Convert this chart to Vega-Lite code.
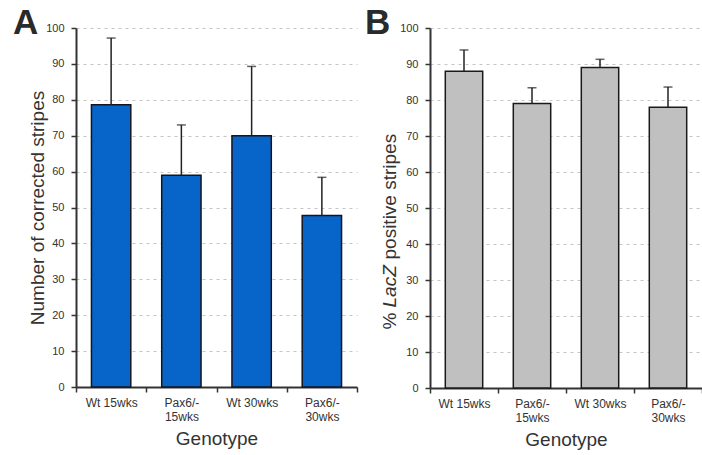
{
  "$schema": "https://vega.github.io/schema/vega-lite/v6.json",
  "background": "white",
  "padding": {"left": 13, "top": 6, "right": 0, "bottom": 0},
  "config": {
    "font": "Liberation Sans",
    "view": {"stroke": null},
    "concat": {"spacing": 7},
    "axis": {
      "labelFont": "Liberation Sans",
      "titleFont": "Liberation Sans",
      "labelColor": "#333333",
      "titleColor": "#333333",
      "domainColor": "#333333",
      "tickColor": "#333333",
      "titleFontWeight": "normal"
    },
    "axisX": {
      "labelFontSize": 12,
      "labelAngle": 0,
      "labelPadding": 5,
      "labelLineHeight": 14.5,
      "tickBand": "extent",
      "tickSize": 5,
      "tickWidth": 1.5,
      "domainWidth": 2,
      "titleFontSize": 19,
      "titlePadding": 7,
      "labelExpr": "indexof(datum.label, 'Pax6') == 0 ? split(datum.label, ' ') : datum.label"
    },
    "axisY": {
      "labelFontSize": 11,
      "labelPadding": 7,
      "tickSize": 5,
      "tickWidth": 1.5,
      "tickCount": 10,
      "domainWidth": 2,
      "gridColor": "#c4c4c4",
      "gridDash": [3, 4],
      "gridWidth": 1,
      "titleFontSize": 19
    },
    "title": {
      "anchor": "start",
      "frame": "group",
      "baseline": "alphabetic",
      "fontSize": 35,
      "fontWeight": "bold",
      "color": "#2a2a2a",
      "font": "Liberation Sans"
    }
  },
  "datasets": {
    "stripes": [
      {"genotype": "Wt 15wks", "mean": 78.6, "upper": 97.2},
      {"genotype": "Pax6/- 15wks", "mean": 59.0, "upper": 73.0},
      {"genotype": "Wt 30wks", "mean": 70.0, "upper": 89.3},
      {"genotype": "Pax6/- 30wks", "mean": 47.8, "upper": 58.4}
    ],
    "lacz": [
      {"genotype": "Wt 15wks", "mean": 88.0, "upper": 93.9},
      {"genotype": "Pax6/- 15wks", "mean": 79.0, "upper": 83.4},
      {"genotype": "Wt 30wks", "mean": 89.0, "upper": 91.3},
      {"genotype": "Pax6/- 30wks", "mean": 78.0, "upper": 83.6}
    ]
  },
  "hconcat": [
    {
      "width": 281,
      "height": 359,
      "title": {"text": "A", "dx": -63, "offset": -19},
      "data": {"name": "stripes"},
      "encoding": {
        "x": {
          "field": "genotype",
          "type": "nominal",
          "sort": null,
          "scale": {"paddingInner": 0, "paddingOuter": 0},
          "axis": {"title": "Genotype"}
        }
      },
      "layer": [
        {
          "mark": {"type": "bar", "width": {"band": 0.56}, "fill": "#0765c9", "stroke": "#15151f", "strokeWidth": 1.5},
          "encoding": {
            "y": {
              "field": "mean",
              "type": "quantitative",
              "scale": {"domain": [0, 100], "nice": false},
              "axis": {
                "title": "Number of corrected stripes",
                "grid": true,
                "titleX": -39,
                "titleBaseline": "middle"
              }
            }
          }
        },
        {
          "mark": {"type": "rule", "stroke": "#222222", "strokeWidth": 1.5},
          "encoding": {
            "y": {"field": "mean", "type": "quantitative"},
            "y2": {"field": "upper"}
          }
        },
        {
          "mark": {"type": "tick", "color": "#222222", "thickness": 1.5, "size": 9},
          "encoding": {
            "y": {"field": "upper", "type": "quantitative"}
          }
        }
      ]
    },
    {
      "width": 272,
      "height": 360,
      "title": {"text": "B", "dx": -65, "offset": -19},
      "data": {"name": "lacz"},
      "encoding": {
        "x": {
          "field": "genotype",
          "type": "nominal",
          "sort": null,
          "scale": {"paddingInner": 0, "paddingOuter": 0},
          "axis": {"title": "Genotype"}
        }
      },
      "layer": [
        {
          "mark": {"type": "bar", "width": {"band": 0.55}, "fill": "#c0c0c0", "stroke": "#1a1a1a", "strokeWidth": 1.5},
          "encoding": {
            "y": {
              "field": "mean",
              "type": "quantitative",
              "scale": {"domain": [0, 100], "nice": false},
              "axis": {
                "title": "%",
                "orient": "left",
                "grid": true,
                "titleX": -41,
                "titleY": 301,
                "titleAlign": "left",
                "titleAngle": 270,
                "titleBaseline": "middle"
              }
            }
          }
        },
        {
          "mark": {"type": "rule", "stroke": "#222222", "strokeWidth": 1.5},
          "encoding": {
            "y": {
              "field": "mean",
              "type": "quantitative",
              "scale": {"domain": [0, 100], "nice": false},
              "axis": {
                "title": "LacZ",
                "orient": "left",
                "titleFontStyle": "italic",
                "labels": false,
                "ticks": false,
                "domain": false,
                "grid": false,
                "titleX": -41,
                "titleY": 279,
                "titleAlign": "left",
                "titleAngle": 270,
                "titleBaseline": "middle"
              }
            },
            "y2": {"field": "upper"}
          }
        },
        {
          "mark": {"type": "tick", "color": "#222222", "thickness": 1.5, "size": 9},
          "encoding": {
            "y": {
              "field": "upper",
              "type": "quantitative",
              "scale": {"domain": [0, 100], "nice": false},
              "axis": {
                "title": "positive stripes",
                "orient": "left",
                "labels": false,
                "ticks": false,
                "domain": false,
                "grid": false,
                "titleX": -41,
                "titleY": 231,
                "titleAlign": "left",
                "titleAngle": 270,
                "titleBaseline": "middle"
              }
            }
          }
        }
      ],
      "resolve": {"scale": {"y": "independent"}, "axis": {"y": "independent"}}
    }
  ]
}
